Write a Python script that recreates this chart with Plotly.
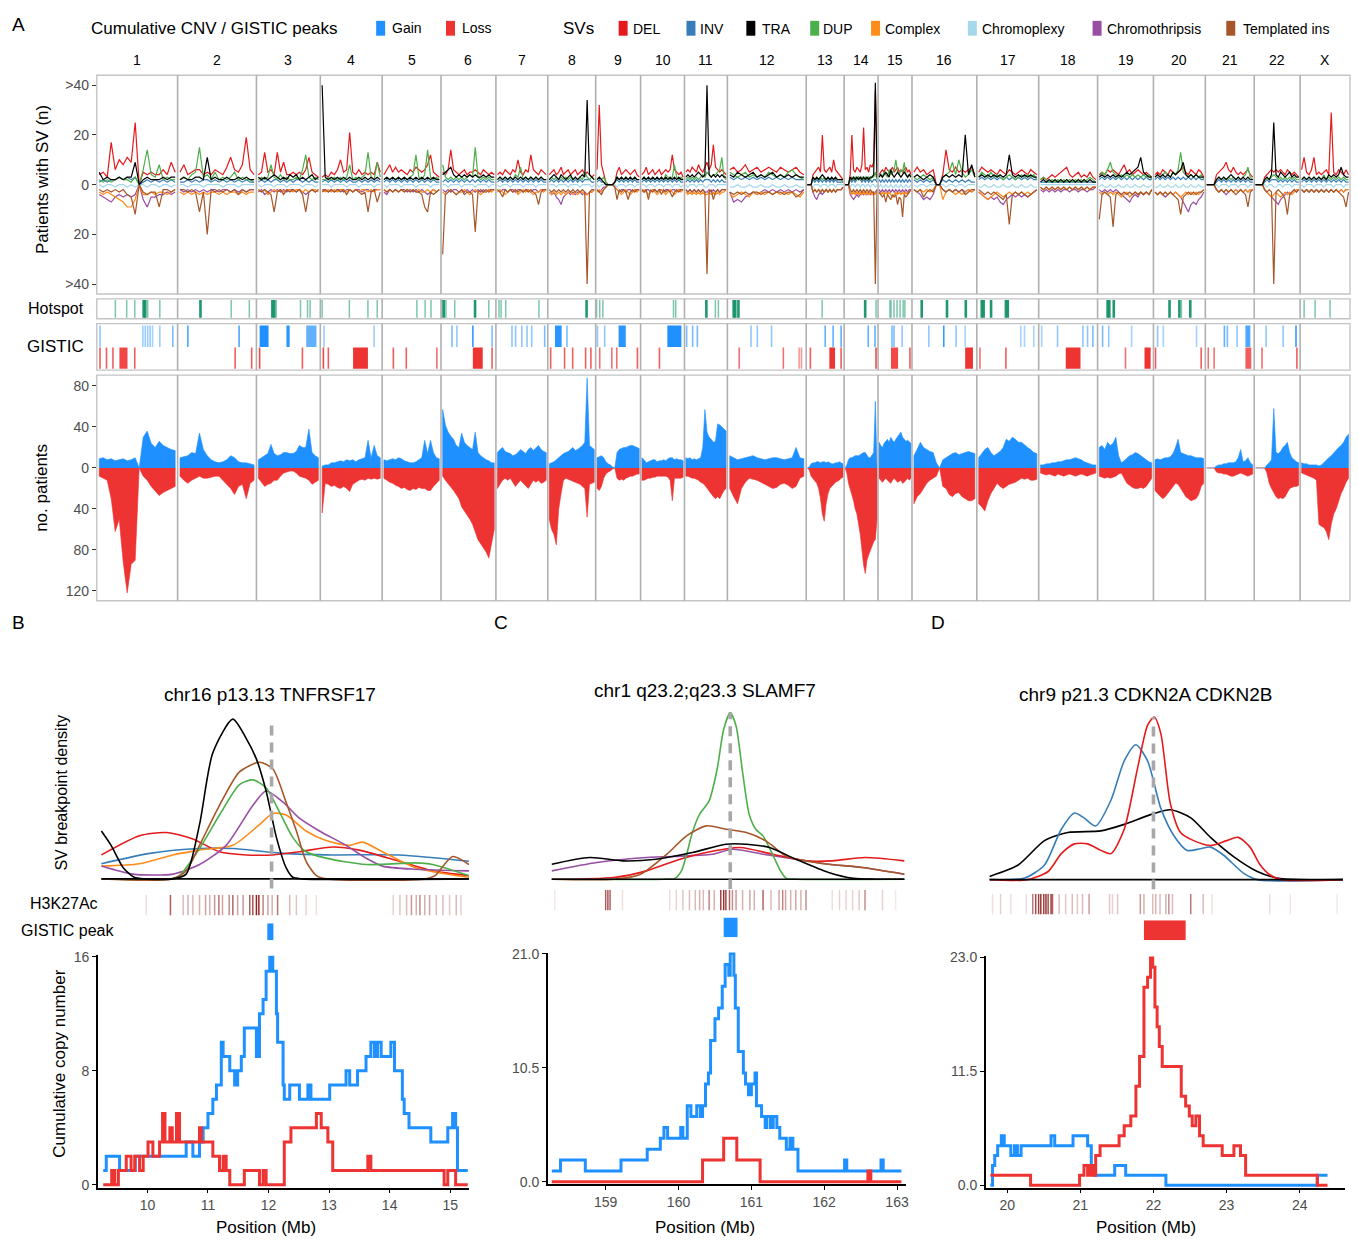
import plotly.graph_objects as go

W, H = 1358, 1245
FONT = "Liberation Sans"
GREY = "#4d4d4d"
GAIN = "#1e90ff"
LOSS = "#ee3333"

# ------------------------------------------------------------------ data (panel A)
chroms = ["1", "2", "3", "4", "5", "6", "7", "8", "9", "10", "11", "12",
          "13", "14", "15", "16", "17", "18", "19", "20", "21", "22", "X"]
# facet width of each chromosome panel (relative space used by the original facets)
chrom_span = [81, 79, 64, 62, 59, 55, 52, 48, 45, 44, 43, 79, 38, 34, 34, 65, 62, 59, 56, 52, 49, 46, 50]

# patients with SV per bin (20 bins / chromosome)
sv_del = [
    [4,5,3,17,6,10,8,11,9,25,0,5,4,5,4,4,6,4,9,5],
    [5,8,4,5,6,6,4,5,4,6,5,4,7,11,6,5,8,19,6,4],
    [4,5,13,5,6,4,13,5,9,4,4,5,4,5,4,6,11,5,4,3],
    [3,4,3,5,4,6,10,5,6,21,5,4,6,4,5,4,5,4,9,5],
    [4,6,8,5,7,5,6,5,4,6,5,7,6,5,6,8,12,5,4,3],
    [5,4,6,14,6,5,4,5,6,4,5,5,6,5,4,6,5,4,5,4],
    [4,5,4,6,5,4,6,5,10,5,4,6,5,12,6,5,4,6,5,4],
    [4,5,6,4,5,7,4,5,6,4,5,6,4,5,6,4,5,4,3,4],
    [6,32,8,5,1,0,0,0,1,5,7,4,5,6,5,4,5,6,4,3],
    [4,5,7,4,5,6,4,5,6,4,5,6,5,6,12,6,5,4,5,3],
    [5,6,5,7,6,5,8,6,5,7,9,6,8,16,7,6,5,6,5,4],
    [6,7,5,6,8,5,6,7,5,6,7,6,5,7,6,5,6,7,5,4],
    [0,0,0,4,5,6,7,5,20,6,5,6,7,5,10,6,5,4,3,2],
    [0,0,0,4,20,6,5,7,6,5,8,23,6,7,5,8,7,9,38,5],
    [4,5,6,5,7,6,5,6,7,5,6,7,5,6,5,6,7,5,6,4],
    [5,7,5,6,4,5,6,0,0,4,14,6,5,7,5,6,5,6,7,4],
    [5,7,6,5,6,5,4,6,5,4,6,5,4,5,6,5,4,6,5,4],
    [2,3,2,3,4,3,4,5,6,7,4,3,4,5,3,4,3,5,3,2],
    [4,5,4,6,5,6,5,4,6,8,5,6,4,5,6,5,4,5,4,3],
    [4,5,4,6,5,4,6,5,4,5,6,7,5,4,6,5,4,6,5,3],
    [0,0,0,0,4,5,6,7,9,6,5,7,5,4,5,4,5,6,4,3],
    [0,0,0,0,3,4,5,6,5,6,5,6,5,4,6,5,4,5,4,3],
    [6,11,5,4,6,11,4,5,4,5,6,4,29,5,4,6,5,4,6,4],
]
sv_dup = [
    [2,1,2,1,2,3,2,2,1,3,0,6,14,4,3,8,2,3,2,2],
    [2,3,2,4,5,15,3,4,2,5,2,3,2,3,5,2,3,2,2,1],
    [2,3,2,3,8,3,2,4,2,3,2,2,3,2,6,12,3,2,3,2],
    [2,2,3,2,3,2,3,2,3,8,2,3,2,3,4,13,3,2,9,3],
    [2,3,2,3,2,3,2,3,2,3,4,12,3,2,4,14,3,2,3,2],
    [8,3,2,3,2,3,2,3,2,3,4,3,15,3,2,3,2,3,2,2],
    [2,3,2,3,2,3,2,4,3,7,2,3,2,3,2,3,2,3,2,2],
    [2,3,2,3,2,3,2,3,2,3,2,3,2,3,2,5,3,2,3,2],
    [2,3,2,3,1,0,0,0,1,3,2,3,2,3,2,3,2,3,2,2],
    [2,3,2,3,2,3,2,3,2,3,2,4,3,2,3,8,3,2,3,2],
    [2,3,2,3,2,3,2,3,4,3,5,4,3,4,4,5,6,11,3,2],
    [5,4,3,4,5,3,4,3,4,3,5,4,3,4,3,5,6,4,3,2],
    [0,0,0,3,2,3,2,3,2,3,2,3,2,3,2,3,2,2,2,1],
    [0,0,0,2,3,2,3,2,3,2,3,2,3,2,3,2,3,3,5,2],
    [3,4,3,5,4,3,6,4,5,6,10,5,4,6,5,9,4,3,4,3],
    [3,2,3,4,3,2,3,0,0,3,4,5,9,4,10,5,3,4,6,3],
    [3,5,4,3,5,3,4,3,2,3,4,3,2,3,4,3,4,3,4,2],
    [2,3,2,1,2,1,2,1,2,1,2,1,2,1,2,1,2,3,2,1],
    [3,5,4,6,9,5,4,3,4,3,4,3,4,3,4,3,4,3,4,2],
    [3,4,3,4,5,4,3,5,4,6,13,5,4,3,4,3,4,3,4,2],
    [0,0,0,0,2,3,2,3,2,3,2,3,2,3,2,3,4,7,3,2],
    [0,0,0,0,2,3,2,3,4,3,2,3,2,3,2,3,2,3,2,2],
    [2,3,2,3,2,3,2,3,2,4,2,3,2,3,2,3,2,3,2,2],
]
sv_tra = [
    [5,2,3,2,2,3,2,3,3,9,0,2,3,2,2,2,3,2,3,3],
    [2,3,2,2,3,3,2,11,2,3,2,2,3,2,2,3,2,3,2,2],
    [3,2,3,2,3,4,3,2,3,2,4,3,4,2,3,2,3,4,2,3],
    [40,3,2,3,2,3,2,3,2,3,2,2,3,2,3,2,3,2,3,2],
    [2,3,2,3,2,3,2,3,2,3,2,3,2,3,2,3,2,3,2,2],
    [4,5,6,7,4,3,4,3,4,3,4,3,4,3,3,4,3,4,3,3],
    [2,3,2,3,2,3,2,3,2,3,2,3,2,3,2,3,2,3,2,2],
    [2,3,4,3,2,4,3,2,3,4,2,3,2,3,4,3,34,4,3,2],
    [2,3,2,1,0,0,0,0,1,3,2,3,2,3,2,3,2,3,2,2],
    [2,3,2,3,2,3,2,3,2,3,2,3,2,3,2,3,2,3,2,2],
    [3,4,3,4,3,4,5,4,3,4,40,4,3,4,3,4,3,4,3,3],
    [4,3,5,4,3,4,5,3,4,3,4,5,3,4,3,4,3,4,3,3],
    [0,0,0,3,2,3,2,3,4,3,2,3,2,3,2,3,2,2,2,2],
    [0,0,0,3,2,3,2,3,2,3,2,3,2,3,2,3,3,4,41,3],
    [3,4,3,4,5,4,3,6,4,3,4,5,4,3,4,5,4,3,4,3],
    [3,4,3,2,3,4,3,0,0,3,4,3,4,3,4,3,20,4,8,3],
    [3,4,3,4,3,4,3,4,3,4,12,4,3,4,3,4,3,4,3,3],
    [1,2,1,2,1,2,1,2,1,2,1,2,1,2,1,2,1,2,1,1],
    [3,4,3,4,3,4,3,4,3,4,5,4,5,6,7,11,5,4,3,3],
    [3,4,3,4,3,4,3,5,4,5,6,9,4,3,4,3,4,3,3,3],
    [0,0,0,0,2,3,2,3,2,3,4,3,2,3,2,3,2,3,2,2],
    [0,0,0,0,2,3,2,4,25,4,3,5,4,3,4,5,3,4,3,3],
    [2,3,2,3,2,3,2,3,2,3,2,4,3,4,3,4,7,4,3,3],
]
sv_inv = [
    [1,2,1,2,2,3,2,3,2,3,0,1,2,1,2,1,2,1,2,1],
    [1,1,2,1,2,1,2,2,1,2,1,2,1,2,1,2,1,2,1,1],
    [1,2,1,2,1,2,2,1,2,1,2,1,2,2,1,2,1,2,1,1],
    [1,2,1,2,1,2,1,2,1,2,1,1,2,1,2,1,2,1,2,1],
    [1,2,1,2,1,2,1,2,1,2,1,2,1,2,1,2,1,2,1,1],
    [1,2,1,2,1,2,1,2,1,2,1,2,1,2,1,2,1,2,1,1],
    [1,2,1,2,1,2,1,2,1,2,1,2,1,2,1,2,1,2,1,1],
    [1,2,1,2,1,2,1,2,1,2,1,2,1,2,1,2,2,2,1,1],
    [1,2,1,1,0,0,0,0,1,2,1,2,1,2,1,2,1,2,1,1],
    [1,2,1,2,1,2,1,2,1,2,1,2,1,2,1,2,1,2,1,1],
    [1,2,1,2,1,2,1,2,1,2,2,2,1,2,1,2,1,2,1,1],
    [3,2,3,2,3,2,3,2,3,2,3,2,3,2,3,2,3,2,2,2],
    [0,0,0,2,1,2,1,2,1,2,1,2,1,2,1,2,1,1,1,1],
    [0,0,0,2,1,2,1,2,3,2,1,2,1,2,1,2,1,2,2,1],
    [2,1,2,1,2,1,2,1,2,1,2,1,2,1,2,1,2,1,2,1],
    [2,1,2,1,2,1,2,0,0,2,1,2,1,2,1,2,1,2,1,1],
    [2,3,2,3,2,3,2,3,2,3,2,3,2,3,2,3,2,3,2,2],
    [1,1,1,1,1,1,1,1,1,1,1,1,1,1,1,1,1,1,1,1],
    [2,3,2,3,2,3,2,3,2,3,2,3,2,3,2,3,2,3,2,2],
    [2,3,2,3,2,3,2,3,2,3,2,3,2,3,2,3,2,3,2,2],
    [0,0,0,0,1,2,1,2,1,2,1,2,1,2,1,2,1,2,1,1],
    [0,0,0,0,1,2,1,2,2,2,1,2,1,2,1,2,1,2,1,1],
    [1,2,1,2,1,2,1,2,1,2,1,2,1,2,1,2,1,2,1,1],
]
sv_complex = [
    [3,4,3,4,5,6,7,9,9,6,0,4,4,3,4,3,3,4,3,2],
    [3,4,3,4,3,4,3,4,3,3,4,3,4,3,3,4,3,4,3,3],
    [2,3,2,4,3,2,3,2,3,2,2,3,2,2,3,2,3,2,2,3],
    [2,3,2,3,2,3,2,2,3,2,3,2,3,2,2,3,2,3,2,2],
    [2,3,2,3,2,3,2,3,2,3,2,3,2,3,3,2,3,2,3,2],
    [3,4,3,2,3,4,3,3,2,3,4,3,2,3,4,3,3,2,3,2],
    [3,2,3,4,3,2,3,2,4,3,2,3,2,3,4,3,3,2,3,2],
    [3,4,3,4,3,4,3,4,3,3,4,3,4,3,3,4,4,3,3,2],
    [3,2,3,2,1,0,0,0,1,2,3,4,3,2,3,4,3,2,3,2],
    [3,2,3,4,3,2,3,4,3,2,3,4,3,2,3,4,3,2,3,2],
    [3,4,3,4,3,4,3,4,3,4,4,3,4,3,4,3,4,3,3,2],
    [4,5,4,3,4,5,3,4,3,4,3,4,3,4,3,4,3,4,5,3],
    [0,0,0,3,2,3,2,3,2,3,2,3,2,3,2,3,2,2,2,1],
    [0,0,0,3,4,3,4,3,4,3,4,3,4,3,4,3,4,3,4,2],
    [3,4,3,4,3,4,3,4,5,4,3,4,3,4,3,4,3,4,3,2],
    [2,3,2,3,2,3,2,0,0,6,3,2,3,4,3,4,3,2,3,2],
    [3,4,5,6,5,4,3,4,5,4,3,4,3,4,3,4,3,4,3,2],
    [1,2,1,2,1,2,1,2,1,2,1,2,1,2,1,2,1,2,1,1],
    [3,4,3,4,3,4,3,4,5,4,3,5,4,3,4,3,4,3,4,2],
    [3,4,3,4,3,4,3,4,3,4,5,4,3,4,3,4,3,4,3,2],
    [0,0,0,0,2,3,2,3,2,3,2,3,2,3,2,3,2,3,2,2],
    [0,0,0,0,2,3,4,5,4,3,4,5,4,3,4,3,4,3,2,2],
    [2,3,2,3,2,3,2,3,2,3,2,3,2,3,2,3,2,3,2,2],
]
sv_chromothripsis = [
    [4,5,6,7,5,4,5,4,5,4,0,6,9,5,5,4,4,3,4,3],
    [2,3,2,3,2,3,2,3,2,2,3,2,2,3,2,3,2,3,2,2],
    [3,2,4,3,2,3,2,3,2,3,2,2,3,2,3,4,3,2,3,2],
    [2,2,3,2,3,2,2,3,2,2,3,2,2,3,2,2,3,2,2,2],
    [3,4,2,3,2,3,2,2,3,2,3,2,3,2,3,4,3,2,3,2],
    [2,3,2,3,2,2,3,2,3,2,3,2,3,2,3,2,3,2,2,2],
    [2,3,2,2,3,2,2,3,2,2,3,2,2,3,2,2,3,2,2,2],
    [3,4,3,5,6,8,5,4,3,4,3,4,3,3,4,3,4,3,3,2],
    [2,3,2,1,1,0,0,0,1,2,3,2,2,3,2,2,3,2,2,2],
    [2,3,2,2,3,2,2,3,2,2,3,2,2,3,2,2,3,2,2,2],
    [2,3,2,3,2,3,2,3,2,3,3,2,3,2,3,2,3,2,2,2],
    [3,7,6,7,5,4,3,4,3,2,3,2,3,2,3,2,3,2,3,2],
    [0,0,0,3,5,6,4,3,4,3,2,3,2,3,2,3,2,2,2,1],
    [0,0,0,4,5,6,5,4,5,4,3,4,3,4,3,4,3,4,3,2],
    [2,3,2,3,2,3,2,3,2,3,2,3,2,3,2,3,2,3,2,2],
    [2,3,4,6,5,6,4,0,0,2,3,2,3,2,3,2,3,2,3,2],
    [3,4,5,6,5,6,5,7,8,6,5,4,5,4,5,4,5,4,3,2],
    [2,3,2,3,2,3,2,3,2,2,3,2,2,3,2,2,3,2,2,1],
    [2,3,2,3,2,3,2,3,4,5,6,7,5,4,5,3,4,3,4,2],
    [3,4,3,4,5,4,3,4,3,4,5,7,9,11,8,7,8,6,5,3],
    [0,0,0,0,2,3,2,3,4,3,2,3,2,3,2,3,2,3,2,2],
    [0,0,0,0,2,3,4,5,6,7,8,6,5,4,3,4,3,2,3,2],
    [2,3,2,3,2,3,2,3,2,3,2,3,2,3,2,3,2,3,2,2],
]
sv_templated = [
    [2,3,2,3,2,3,2,4,5,12,0,3,4,3,3,9,2,2,3,2],
    [2,2,3,2,3,11,3,20,2,3,2,3,2,3,2,4,2,3,2,2],
    [2,3,2,3,4,11,3,2,4,2,3,2,3,2,4,11,3,2,3,2],
    [3,2,3,2,3,2,3,2,4,2,3,2,3,4,3,11,3,2,7,3],
    [2,3,2,3,2,3,2,3,2,3,2,3,3,4,9,11,3,4,3,2],
    [28,4,3,2,3,4,3,2,4,3,3,4,19,3,2,3,2,3,2,2],
    [2,3,5,2,3,2,3,2,3,2,3,2,3,2,3,4,8,3,2,2],
    [2,3,2,3,2,3,2,3,2,3,2,3,2,3,2,3,40,3,2,2],
    [2,3,4,2,1,0,0,0,1,6,2,3,2,3,6,3,2,3,2,2],
    [2,3,2,6,2,3,2,3,2,4,2,3,2,3,5,3,2,3,2,2],
    [2,3,2,3,2,3,2,3,2,3,36,3,2,6,3,2,3,2,2,2],
    [3,4,3,4,3,4,3,3,4,3,3,4,3,3,4,3,3,5,4,2],
    [0,0,0,3,2,3,2,3,2,3,2,3,2,3,2,3,2,2,2,1],
    [0,0,0,2,3,2,3,2,3,2,3,2,3,2,3,2,3,3,40,2],
    [3,4,5,4,7,4,5,6,4,5,4,8,5,6,13,4,5,4,3,2],
    [2,3,2,5,3,2,3,0,0,2,3,2,3,2,3,2,4,3,2,2],
    [2,3,4,3,4,3,4,5,6,4,16,4,3,4,3,4,5,4,3,2],
    [1,2,1,2,1,2,1,2,1,2,1,2,1,2,1,2,1,2,1,1],
    [14,4,3,4,5,17,4,3,4,3,4,3,4,3,4,3,4,3,4,2],
    [3,4,3,4,3,4,3,4,5,6,12,5,4,3,4,3,4,3,3,2],
    [0,0,0,0,2,3,2,3,2,3,2,3,4,3,2,3,4,9,3,2],
    [0,0,0,0,2,3,2,3,40,3,2,3,4,6,12,4,3,2,3,2],
    [2,3,2,3,2,3,2,3,2,3,2,3,2,3,2,3,4,5,9,3],
]
sv_chromoplexy = [
    [0,1,0,0,1,0,0,1,0,1,0,0,1,0,0,1,0,0,1,0],
    [0,0,1,0,0,0,1,0,0,0,0,1,0,0,0,1,0,0,0,0],
    [0,1,0,0,0,1,0,0,0,1,0,0,0,0,1,0,0,0,1,0],
    [0,0,0,1,0,0,0,0,1,0,0,0,1,0,0,0,0,1,0,0],
    [0,1,0,0,0,0,1,0,0,0,0,1,0,0,0,0,1,0,0,0],
    [0,0,1,0,0,0,0,1,0,0,0,0,1,0,0,0,0,1,0,0],
    [0,1,0,0,0,1,0,0,0,0,1,0,0,0,0,1,0,0,0,0],
    [0,0,0,1,0,0,0,0,1,0,0,0,0,1,0,0,0,0,1,0],
    [0,1,0,0,0,0,0,0,0,1,0,0,0,1,0,0,0,1,0,0],
    [0,0,1,0,0,0,1,0,0,0,1,0,0,0,1,0,0,0,1,0],
    [0,1,0,0,0,1,0,0,0,1,1,0,0,0,1,0,0,0,0,0],
    [1,1,0,1,1,0,1,1,0,1,1,0,1,1,0,1,1,0,1,1],
    [0,0,0,1,0,0,0,1,0,0,0,1,0,0,0,1,0,0,0,0],
    [0,0,0,1,0,0,1,0,0,1,0,0,1,0,0,1,0,0,1,0],
    [1,0,1,1,0,1,1,0,1,1,0,1,1,0,1,1,0,1,1,0],
    [0,1,0,0,1,0,0,0,0,0,1,0,0,1,0,0,1,0,0,0],
    [1,1,0,1,1,0,1,1,0,1,1,0,1,1,0,1,1,0,1,1],
    [0,0,0,0,0,0,0,0,0,0,0,0,0,0,0,0,0,0,0,0],
    [1,0,1,1,0,1,1,0,1,1,0,1,1,0,1,1,0,1,1,0],
    [1,1,0,1,1,0,1,1,0,1,1,0,1,1,0,1,1,0,1,1],
    [0,0,0,0,0,1,0,0,0,1,0,0,0,1,0,0,0,1,0,0],
    [0,0,0,0,0,1,0,0,1,1,0,0,1,0,0,0,1,0,0,0],
    [0,1,0,0,0,1,0,0,0,1,0,0,0,1,0,0,0,1,0,0],
]

# cumulative CNV (no. patients) per bin
cnv_gain = [
    [9,10,8,9,7,8,9,7,8,10,0,30,36,24,20,26,22,20,18,17],
    [10,11,12,15,14,34,18,12,8,6,5,6,8,12,10,6,5,5,4,3],
    [8,10,12,14,23,14,12,13,15,15,14,14,16,22,20,20,38,15,12,10],
    [2,3,3,5,5,6,7,6,8,7,8,6,8,9,10,27,10,22,12,10],
    [8,7,8,9,8,10,9,7,6,5,5,6,8,10,27,14,27,15,10,9],
    [57,42,35,31,28,22,20,34,25,22,20,18,35,15,12,10,8,7,5,5],
    [15,18,20,16,15,14,12,13,15,18,16,14,18,20,17,20,22,18,16,15],
    [4,5,6,8,10,12,14,15,16,18,20,17,18,20,22,25,88,22,20,18],
    [10,11,12,10,6,4,3,1,0,15,18,19,20,20,21,22,22,21,20,19],
    [10,8,5,6,7,8,8,6,7,7,8,7,9,10,10,8,9,8,8,7],
    [10,9,10,8,9,8,9,10,20,57,35,30,28,25,26,43,42,40,38,36],
    [12,10,8,9,10,11,12,10,9,8,9,10,10,9,8,9,10,20,10,9],
    [0,1,4,5,5,6,6,5,6,6,5,6,5,4,4,5,5,6,5,4],
    [0,3,8,10,10,11,12,12,12,13,14,15,15,12,10,10,12,15,65,20],
    [25,22,20,24,26,28,25,30,27,25,28,30,32,35,30,28,26,27,25,24],
    [12,18,25,20,18,16,15,5,0,8,10,12,14,15,13,14,15,16,15,14],
    [10,14,18,20,15,12,14,16,20,28,26,30,28,25,25,22,20,18,15,14],
    [3,3,4,4,5,5,6,6,7,8,8,9,10,9,8,6,5,4,3,3],
    [20,22,18,25,22,24,30,12,5,7,10,12,13,15,14,12,10,8,6,5],
    [8,9,8,9,10,10,11,14,20,28,15,14,13,12,12,11,10,10,10,9],
    [0,0,0,0,2,3,3,4,4,5,5,5,6,10,18,6,7,10,5,3],
    [0,0,0,0,0,3,5,8,58,15,14,16,20,22,25,15,10,8,6,5],
    [5,4,4,3,3,3,3,2,3,5,8,10,12,15,18,20,22,25,30,33],
]
cnv_loss = [
    [8,10,12,30,62,50,92,122,94,90,0,8,12,18,22,27,24,22,20,18],
    [8,12,15,12,10,8,10,10,9,8,8,12,15,20,26,18,16,30,15,12],
    [10,14,18,16,15,12,12,8,5,4,3,3,5,8,9,10,12,16,14,12],
    [44,15,16,18,17,19,20,18,20,23,16,14,12,11,12,10,11,10,11,10],
    [10,12,14,15,17,18,20,19,21,22,20,21,19,20,20,22,22,18,15,12],
    [8,12,15,18,22,26,30,38,42,45,50,55,62,70,74,78,82,88,75,60],
    [20,16,12,10,12,10,14,18,15,12,15,18,20,16,12,14,12,15,14,12],
    [50,60,65,75,40,25,12,10,11,12,13,14,15,16,18,20,48,16,15,14],
    [20,22,18,10,6,4,3,1,0,10,12,11,12,10,9,8,8,7,6,6],
    [12,12,11,10,10,9,9,8,8,8,8,8,9,12,32,10,10,10,10,9],
    [8,8,9,10,10,11,12,14,15,17,20,22,25,28,30,28,30,26,22,20],
    [20,28,35,20,14,10,11,12,14,16,18,20,19,16,15,17,20,18,10,8],
    [0,2,8,10,12,15,20,30,45,52,35,25,20,18,15,14,13,12,10,9],
    [0,5,15,20,25,32,40,45,55,65,80,95,103,90,85,80,75,72,70,50],
    [10,12,14,12,10,12,14,15,12,10,12,14,13,12,15,14,12,10,12,10],
    [35,28,25,20,15,12,10,8,0,18,20,26,28,25,24,28,30,32,32,30],
    [35,38,42,32,25,20,15,18,20,18,16,15,14,12,10,11,10,12,12,11],
    [5,6,7,6,7,8,6,7,8,7,6,7,8,7,6,7,8,7,6,5],
    [8,9,10,9,10,9,8,6,5,10,15,17,19,20,20,19,20,18,14,10],
    [22,25,28,30,28,25,22,18,15,16,20,25,28,30,32,31,30,26,18,15],
    [0,0,0,0,4,5,5,6,6,7,8,8,7,6,5,6,7,8,7,6],
    [0,0,0,0,0,5,15,20,24,28,30,29,30,28,24,20,19,18,18,17],
    [5,6,7,8,9,10,12,55,57,58,62,70,55,45,40,32,25,20,14,10],
]

# hotspots: (chromosome, position % of chromosome, strong?)
hotspots = [
    ("1",23,0),("1",37,0),("1",47,0),("1",58,1),("1",60,1),("1",63,0),("1",78,0),
    ("2",29,1),("2",68,0),("2",91,0),
    ("3",25,1),("3",28,1),("3",31,0),("3",69,0),("3",80,0),("3",84,0),
    ("4",3,0),("4",47,0),("4",77,0),("4",92,0),
    ("5",59,0),("5",73,0),("5",83,0),
    ("6",2,0),("6",5,1),("6",9,0),("6",25,0),("6",62,1),("6",87,0),
    ("7",6,0),("7",10,0),("7",19,0),("7",83,0),
    ("8",81,1),
    ("9",2,0),("9",9,0),("9",16,0),
    ("10",75,0),("10",80,0),
    ("11",51,1),("11",72,0),("11",79,0),
    ("12",8,1),("12",10,1),("12",14,1),
    ("13",42,0),
    ("14",62,1),("14",94,0),
    ("15",35,0),("15",38,0),("15",47,0),("15",56,0),("15",65,0),("15",74,0),("15",79,0),
    ("16",15,1),("16",54,1),("16",83,1),
    ("17",8,1),("17",11,1),("17",23,1),("17",47,1),("17",50,1),
    ("19",18,1),("19",21,1),("19",29,1),
    ("20",31,1),("20",50,1),("20",54,0),("20",71,1),
    ("X",8,0),("X",30,0),("X",60,0),
]

# GISTIC peaks: (chromosome, start %, end %, significance shade)
gistic_gain = [
    ("1",4,4,0.5),("1",57,57,0.45),("1",60,60,0.45),("1",63,63,0.45),("1",66,66,0.45),("1",69,69,0.4),
    ("1",78,78,0.45),("1",94,94,0.6),
    ("2",13,13,0.8),("2",78,78,0.8),
    ("3",5,19,1.0),("3",47,52,0.95),("3",78,94,0.7),
    ("4",6,6,0.45),("4",87,87,0.45),
    ("6",20,20,0.6),("6",29,29,0.5),("6",58,58,0.9),("6",93,93,0.6),
    ("7",31,31,0.5),("7",38,38,0.5),("7",50,50,0.5),("7",60,60,0.5),("7",69,69,0.5),("7",94,94,0.6),
    ("8",15,29,0.95),("8",40,40,0.6),
    ("9",4,4,0.5),("9",20,20,0.5),("9",51,67,0.95),
    ("10",61,93,1.0),
    ("11",5,5,0.6),("11",19,19,0.6),("11",30,30,0.6),
    ("12",30,30,0.5),("12",38,38,0.5),("12",56,56,0.5),
    ("13",50,50,0.7),("13",71,71,0.7),("13",92,92,0.7),
    ("14",71,71,0.7),("14",91,91,0.7),
    ("15",41,41,0.6),("15",47,47,0.6),("15",71,71,0.5),
    ("16",26,26,0.5),("16",49,49,0.9),("16",68,68,0.5),("16",82,82,0.4),
    ("17",71,71,0.4),("17",77,77,0.4),("17",92,92,0.4),
    ("18",5,5,0.4),("18",32,32,0.5),("18",75,75,0.5),("18",83,83,0.5),("18",92,92,0.6),
    ("19",9,9,0.6),("19",20,20,0.5),("19",61,61,0.4),
    ("20",8,8,0.5),("20",19,19,0.4),("20",83,83,0.4),
    ("21",39,39,0.7),("21",45,45,0.6),("21",65,65,0.5),("21",82,92,0.8),
    ("22",26,26,0.5),("22",63,63,0.5),("22",91,91,0.9),
]
gistic_loss = [
    ("1",4,4,0.8),("1",12,12,0.8),("1",20,20,0.8),("1",28,38,0.9),("1",47,47,0.8),
    ("2",73,73,0.8),("2",94,94,0.8),
    ("3",5,5,0.9),("3",72,72,0.8),
    ("4",5,5,0.9),("4",13,13,0.8),("4",53,77,1.0),
    ("5",19,19,0.8),("5",41,41,0.8),("5",93,93,0.7),
    ("6",58,76,1.0),("6",93,93,0.8),
    ("8",6,6,0.8),("8",35,35,0.8),("8",52,52,0.8),("8",79,79,0.8),("8",90,90,0.8),
    ("9",9,9,0.7),("9",36,36,0.7),("9",47,47,0.7),("9",93,93,0.8),
    ("10",43,43,0.8),
    ("12",15,15,0.7),("12",71,71,0.7),("12",91,91,0.5),("12",94,94,0.5),
    ("13",11,11,0.8),("13",61,76,1.0),("13",92,92,0.8),
    ("14",94,94,0.9),
    ("15",38,59,0.9),("15",94,94,0.8),
    ("16",82,94,1.0),
    ("17",5,5,0.7),("17",47,47,0.8),
    ("18",46,71,1.0),
    ("19",50,50,0.7),("19",84,95,1.0),
    ("20",4,4,0.8),("20",92,92,0.8),
    ("21",6,6,0.7),("21",18,18,0.7),("21",82,94,0.8),
    ("22",17,17,0.7),("22",93,93,0.8),
]

sv_types = ["DEL", "INV", "TRA", "DUP", "Complex", "Chromoplexy", "Chromothripsis", "Templated ins"]
sv_colors = ["#e41a1c", "#377eb8", "#000000", "#4daf4a", "#ff8c1a", "#a6d8ec", "#984ea3", "#a65628"]

# ------------------------------------------------------------------ data (panels B, C, D)
# SV breakpoint density (Mb, relative density)
b_del = [(9.24,0.15),(9.87,0.27),(10.31,0.29),(10.75,0.25),(11.19,0.17),(11.63,0.15),(12.07,0.15),
         (12.51,0.17),(13.06,0.20),(13.50,0.18),(14.16,0.11),(14.71,0.05),(15.31,0.02)]
b_inv = [(9.24,0.095),(10.04,0.16),(10.86,0.19),(11.41,0.19),(12.24,0.16),(13.06,0.15),(14.16,0.15),(15.31,0.11)]
b_tra = [(9.24,0.30),(9.40,0.21),(9.60,0.07),(9.78,0.01),(9.95,0.0),(10.42,0.0),(10.64,0.03),(10.86,0.34),
         (11.08,0.79),(11.41,1.0),(11.63,0.88),(11.80,0.75),(11.96,0.55),(12.13,0.26),(12.29,0.07),(12.40,0.01),
         (12.55,0.0),(15.31,0.0)]
b_dup = [(9.24,0.0),(10.40,0.0),(10.53,0.02),(10.86,0.19),(11.19,0.40),(11.52,0.59),(11.74,0.62),(11.96,0.57),
         (12.18,0.42),(12.40,0.26),(12.62,0.17),(12.95,0.13),(13.61,0.09),(14.43,0.10),(14.71,0.09),(15.31,0.02)]
b_complex = [(9.24,0.08),(9.87,0.095),(10.42,0.15),(10.86,0.18),(11.41,0.21),(11.85,0.34),(12.07,0.41),(12.29,0.40),
             (12.62,0.30),(12.95,0.24),(13.33,0.21),(13.55,0.23),(13.88,0.17),(14.43,0.07),(15.31,0.01)]
b_chromothripsis = [(9.24,0.08),(9.76,0.03),(10.42,0.03),(10.86,0.09),(11.30,0.21),(11.74,0.46),(11.96,0.55),(12.24,0.48),
                    (12.51,0.38),(12.84,0.30),(13.28,0.21),(13.61,0.13),(13.88,0.08),(14.43,0.06),(15.31,0.05)]
b_templated = [(9.24,0.0),(10.40,0.0),(10.64,0.05),(10.86,0.21),(11.19,0.46),(11.52,0.67),(11.85,0.73),(12.07,0.69),
               (12.29,0.48),(12.46,0.30),(12.62,0.11),(12.79,0.02),(12.95,0.0),(14.60,0.0),(14.75,0.02),(15.04,0.14),(15.31,0.09)]

c_dup = [(158.26,0.0),(159.80,0.0),(159.95,0.005),(160.04,0.05),(160.10,0.13),(160.19,0.28),(160.29,0.39),
         (160.42,0.47),(160.53,0.66),(160.62,0.90),(160.71,1.0),(160.79,0.92),(160.88,0.64),(160.97,0.39),
         (161.06,0.30),(161.16,0.26),(161.29,0.15),(161.40,0.05),(161.48,0.005),(161.62,0.0),(163.10,0.0)]
c_templated = [(158.26,0.0),(159.11,0.0),(159.48,0.03),(159.84,0.15),(160.11,0.26),(160.38,0.32),(160.65,0.30),
               (160.93,0.28),(161.20,0.23),(161.47,0.14),(161.75,0.11),(162.06,0.09),(162.52,0.07),(163.10,0.03)]
c_tra = [(158.26,0.09),(158.78,0.13),(159.24,0.11),(159.69,0.12),(160.19,0.16),(160.65,0.21),(160.93,0.21),
         (161.25,0.19),(161.61,0.12),(162.06,0.04),(162.40,0.005),(162.70,0.0),(163.10,0.0)]
c_chromothripsis = [(158.26,0.05),(158.88,0.10),(159.56,0.13),(160.11,0.14),(160.47,0.15),(160.74,0.18),(161.16,0.15),
                    (161.61,0.12),(162.06,0.09),(162.52,0.07),(163.10,0.03)]
c_del = [(158.26,0.0),(159.11,0.01),(159.56,0.05),(160.02,0.12),(160.38,0.16),(160.84,0.19),(161.29,0.15),
         (161.75,0.11),(162.11,0.11),(162.56,0.13),(163.10,0.11)]

d_del = [(19.76,0.0),(20.28,0.0),(20.56,0.05),(20.74,0.16),(20.92,0.22),(21.10,0.22),(21.28,0.18),(21.42,0.16),
         (21.60,0.31),(21.78,0.68),(21.92,0.95),(22.01,1.0),(22.10,0.90),(22.23,0.47),(22.37,0.29),(22.55,0.24),
         (22.78,0.21),(23.00,0.24),(23.16,0.26),(23.32,0.20),(23.46,0.09),(23.59,0.03),(23.75,0.0),(24.59,0.0)]
d_inv = [(19.76,0.0),(20.24,0.01),(20.51,0.09),(20.74,0.31),(20.92,0.41),(21.05,0.38),(21.21,0.33),(21.42,0.49),
         (21.60,0.73),(21.76,0.83),(21.92,0.73),(22.10,0.44),(22.28,0.27),(22.46,0.18),(22.64,0.19),(22.78,0.20),
         (22.96,0.15),(23.23,0.04),(23.42,0.0),(24.59,0.0)]
d_tra = [(19.76,0.02),(20.15,0.09),(20.51,0.24),(20.83,0.29),(21.28,0.30),(21.60,0.34),(21.96,0.40),(22.23,0.43),
         (22.51,0.38),(22.78,0.26),(23.10,0.14),(23.42,0.05),(23.69,0.01),(24.00,0.0),(24.59,0.0)]

gene_pos = {"B": 12.05, "C": 160.71, "D": 22.0}
density_span = {"B": (9.24, 15.31), "C": (158.26, 163.10), "D": (19.76, 24.59)}

# H3K27Ac peaks (Mb, signal)
b_h3 = [(9.98,0.15),(10.38,0.7),(10.59,0.3),(10.67,0.35),(10.75,0.3),(10.86,0.35),(10.96,0.4),(11.03,0.35),
        (11.11,0.45),(11.18,0.6),(11.24,0.4),(11.35,0.5),(11.41,0.65),(11.49,0.4),(11.58,0.45),(11.69,0.7),
        (11.74,0.75),(11.80,0.95),(11.84,0.9),(11.91,0.55),(11.99,0.4),(12.06,0.35),(12.15,0.6),(12.35,0.3),
        (12.46,0.25),(12.62,0.2),(12.79,0.15),(14.06,0.2),(14.17,0.25),(14.28,0.3),(14.36,0.45),(14.44,0.35),
        (14.50,0.5),(14.58,0.35),(14.66,0.4),(14.77,0.3),(14.88,0.3),(14.99,0.25),(15.10,0.3),(15.18,0.2)]
c_h3 = [(158.30,0.1),(159.00,0.7),(159.03,0.75),(159.06,0.7),(159.23,0.15),(159.88,0.15),(159.97,0.2),(160.06,0.25),
        (160.15,0.3),(160.23,0.3),(160.29,0.35),(160.34,0.3),(160.42,0.55),(160.49,0.35),(160.58,0.85),(160.62,0.9),
        (160.65,0.85),(160.70,0.7),(160.74,0.5),(160.79,0.45),(160.88,0.35),(160.98,0.4),(161.04,0.35),(161.16,0.7),
        (161.27,0.3),(161.38,0.4),(161.43,0.55),(161.47,0.4),(161.54,0.35),(161.61,0.4),(161.68,0.35),(161.75,0.5),
        (162.11,0.15),(162.21,0.2),(162.30,0.2),(162.39,0.2),(162.48,0.25),(162.56,0.5),(162.80,0.2),(162.98,0.1)]
d_h3 = [(19.80,0.15),(19.91,0.2),(20.05,0.15),(20.26,0.15),(20.35,0.6),(20.39,0.8),(20.43,0.85),(20.46,0.9),
        (20.50,0.85),(20.53,0.9),(20.56,0.8),(20.60,0.85),(20.62,0.7),(20.71,0.3),(20.80,0.25),(20.89,0.3),
        (20.96,0.25),(21.03,0.3),(21.12,0.45),(21.40,0.25),(21.44,0.2),(21.51,0.25),(21.82,0.45),(21.87,0.35),
        (21.99,0.3),(22.03,0.35),(22.09,0.3),(22.17,0.35),(22.21,0.5),(22.26,0.3),(22.51,0.6),(22.68,0.3),
        (22.80,0.15),(23.59,0.15),(23.87,0.1),(24.51,0.1)]

# GISTIC peak extent (Mb) and type
gistic_peak = {"B": (11.98, 12.08, "gain"), "C": (160.62, 160.81, "gain"), "D": (21.87, 22.44, "loss")}

# cumulative copy number (step profiles)
b_gain_x = [9.27,9.32,9.54,9.74,9.80,9.98,10.64,10.75,10.86,10.92,11.00,11.08,11.14,11.22,11.25,11.36,11.44,11.49,
            11.55,11.60,11.80,11.85,11.91,11.96,12.02,12.07,12.13,12.15,12.24,12.26,12.35,12.51,12.65,12.70,13.01,
            13.28,13.34,13.47,13.61,13.69,13.75,13.80,13.86,14.02,14.08,14.21,14.24,14.32,14.68,14.96,15.04,15.09,
            15.12,15.29]
b_gain_y = [1,2,1,1,2,2,3,2,3,4,5,6,7,10,9,8,7,8,9,11,9,12,13,15,16,15,12,10,7,6,7,6,7,6,7,8,7,8,9,10,9,10,9,
            10,8,6,5,4,3,4,5,4,1,1]
b_loss_x = [9.27,9.41,9.46,9.52,9.65,9.73,9.79,9.87,9.93,10.01,10.09,10.20,10.25,10.29,10.37,10.41,10.48,10.53,
            10.86,10.89,11.08,11.19,11.25,11.30,11.36,11.60,11.85,11.91,11.96,12.26,12.37,12.79,12.87,12.98,13.06,
            13.64,13.69,14.90,14.96,15.04,15.09,15.29]
b_loss_y = [0,1,0,1,2,1,2,1,2,3,2,3,5,3,4,3,5,3,4,3,2,1,2,1,0,1,0,1,0,3,4,5,4,3,1,2,1,0,1,1,0,0]

c_gain_x = [158.26,158.38,158.72,159.21,159.57,159.75,159.80,159.85,160.03,160.06,160.12,160.17,160.25,160.30,
            160.33,160.37,160.41,160.44,160.50,160.55,160.60,160.64,160.69,160.71,160.76,160.78,160.82,160.89,
            160.92,160.96,161.00,161.05,161.07,161.14,161.19,161.21,161.26,161.30,161.35,161.39,161.48,161.53,
            161.57,161.64,162.28,162.31,162.78,162.81,163.06]
c_gain_y = [1,2,1,2,3,4,5,4,5,4,7,6,7,6,7,9,10,13,15,16,18,20,19,21,19,16,12,10,9,8,9,10,7,6,5,6,5,6,5,4,3,4,3,
            1,2,1,2,1,1]
c_loss_x = [158.26,160.33,160.62,160.80,161.12,162.60,162.64,163.06]
c_loss_y = [0,2,4,2,0,1,0,0]

d_gain_x = [19.77,19.80,19.83,19.87,19.92,19.96,20.05,20.10,20.14,20.19,20.60,20.65,20.90,21.10,21.15,21.19,21.26,
            21.47,21.62,22.17,24.24,24.38]
d_gain_y = [0,2,3,4,5,4,3,4,3,4,5,4,5,4,2,1,1,2,1,0,1,1]
d_loss_x = [19.77,20.32,20.99,21.05,21.10,21.14,21.18,21.21,21.27,21.53,21.60,21.69,21.76,21.81,21.87,21.92,21.96,
            21.99,22.02,22.05,22.08,22.12,22.38,22.44,22.49,22.53,22.58,22.63,22.68,22.94,23.10,23.19,23.26,24.24,24.38]
d_loss_y = [1,0,1,2,1,2,1,3,4,5,6,7,10,13,20,21,23,22,18,16,14,12,9,8,7,6,7,5,4,3,4,3,1,0,0]

# ------------------------------------------------------------------ helpers
offsets = []
_acc = 0
for _s in chrom_span:
    offsets.append(_acc)
    _acc += _s
TOTAL = _acc
cidx = {c: i for i, c in enumerate(chroms)}


def bin_x(ci, n):
    return [offsets[ci] + chrom_span[ci] * (0.03 + 0.94 * k / (n - 1)) for k in range(n)]


def pos_x(c, pct):
    ci = cidx[c]
    return offsets[ci] + chrom_span[ci] * pct / 100.0


def xd(a, b):
    return [a / W, b / W]


def yd(top, bottom):
    return [1 - bottom / H, 1 - top / H]


def px(x):
    return x / W


def py(y):
    return 1 - y / H


fig = go.Figure()

# ------------------------------------------------------------------ panel A: SV lines
col = dict(zip(sv_types, sv_colors))
sv_layers = [(sv_chromoplexy, -1, col["Chromoplexy"]), (sv_chromothripsis, -1, col["Chromothripsis"]),
             (sv_complex, -1, col["Complex"]), (sv_templated, -1, col["Templated ins"]),
             (sv_inv, 1, col["INV"]), (sv_del, 1, col["DEL"]), (sv_dup, 1, col["DUP"]), (sv_tra, 1, col["TRA"])]
for data, sign, c in sv_layers:
    xs, ys = [], []
    for ci, vals in enumerate(data):
        xs += bin_x(ci, len(vals)) + [None]
        ys += [sign * v for v in vals] + [None]
    fig.add_trace(go.Scatter(x=xs, y=ys, mode="lines", line=dict(color=c, width=1.2),
                             xaxis="x", yaxis="y", hoverinfo="skip"))

# hotspots
fig.add_trace(go.Bar(
    x=[pos_x(c, p) for c, p, s in hotspots],
    y=[0.9 for _ in hotspots], base=0.05,
    width=[2.6 if s else 1.5 for c, p, s in hotspots],
    marker=dict(color=["rgba(20,145,100,0.95)" if s else "rgba(40,160,115,0.6)" for c, p, s in hotspots],
                line=dict(width=0)),
    xaxis="x", yaxis="y2", hoverinfo="skip"))

# GISTIC
for regs, base, rgb in [(gistic_gain, 1.0, "30,144,255"), (gistic_loss, 0.06, "238,51,51")]:
    fig.add_trace(go.Bar(
        x=[(pos_x(c, s) + pos_x(c, e)) / 2 for c, s, e, a in regs],
        y=[0.92 for _ in regs], base=base,
        width=[max(pos_x(c, e) - pos_x(c, s), 1.6) for c, s, e, a in regs],
        marker=dict(color=["rgba(%s,%.2f)" % (rgb, a) for c, s, e, a in regs], line=dict(width=0)),
        xaxis="x", yaxis="y3", hoverinfo="skip"))

# CNV
for data, sign, c in [(cnv_gain, 1, GAIN), (cnv_loss, -1, LOSS)]:
    xs, ys = [], []
    for ci, vals in enumerate(data):
        bx = bin_x(ci, len(vals))
        xs += [bx[0]] + bx + [bx[-1], None]
        ys += [0] + [sign * v for v in vals] + [0, None]
    fig.add_trace(go.Scatter(x=xs, y=ys, mode="lines", fill="toself", fillcolor=c,
                             line=dict(color=c, width=0.6), xaxis="x", yaxis="y4", hoverinfo="skip"))

# ------------------------------------------------------------------ panels B, C, D
panels = {
    "B": dict(xa="x2", ys=("y5", "y6", "y7", "y8"),
              dens=[(b_inv, col["INV"]), (b_del, col["DEL"]), (b_complex, col["Complex"]),
                    (b_chromothripsis, col["Chromothripsis"]), (b_dup, col["DUP"]),
                    (b_templated, col["Templated ins"]), (b_tra, col["TRA"])],
              h3=b_h3, h3w=0.025, cn=((b_gain_x, b_gain_y), (b_loss_x, b_loss_y))),
    "C": dict(xa="x3", ys=("y9", "y10", "y11", "y12"),
              dens=[(c_chromothripsis, col["Chromothripsis"]), (c_del, col["DEL"]), (c_dup, col["DUP"]),
                    (c_templated, col["Templated ins"]), (c_tra, col["TRA"])],
              h3=c_h3, h3w=0.02, cn=((c_gain_x, c_gain_y), (c_loss_x, c_loss_y))),
    "D": dict(xa="x4", ys=("y13", "y14", "y15", "y16"),
              dens=[(d_tra, col["TRA"]), (d_inv, col["INV"]), (d_del, col["DEL"])],
              h3=d_h3, h3w=0.02, cn=((d_gain_x, d_gain_y), (d_loss_x, d_loss_y))),
}

for key, P in panels.items():
    xa = P["xa"]
    yden, yh3, ypk, ycn = P["ys"]
    s0, s1 = density_span[key]
    for pts, c in P["dens"]:
        fig.add_trace(go.Scatter(x=[p[0] for p in pts], y=[p[1] for p in pts], mode="lines",
                                 line=dict(color=c, width=1.6, shape="spline", smoothing=0.7),
                                 xaxis=xa, yaxis=yden, hoverinfo="skip"))
    fig.add_trace(go.Scatter(x=[s0, s1], y=[0, 0], mode="lines", line=dict(color="black", width=1.6),
                             xaxis=xa, yaxis=yden, hoverinfo="skip"))
    g = gene_pos[key]
    fig.add_trace(go.Scatter(x=[g, g], y=[-0.06, 1.0], mode="lines",
                             line=dict(color="#a8a8a8", width=3.6, dash="10px,7px"),
                             xaxis=xa, yaxis=yden, hoverinfo="skip"))
    fig.add_trace(go.Bar(x=[p for p, a in P["h3"]], y=[1 for _ in P["h3"]], base=0,
                         width=[P["h3w"] for _ in P["h3"]],
                         marker=dict(color=["rgba(139,26,26,%.2f)" % a for p, a in P["h3"]], line=dict(width=0)),
                         xaxis=xa, yaxis=yh3, hoverinfo="skip"))
    ps, pe, pt = gistic_peak[key]
    fig.add_trace(go.Bar(x=[(ps + pe) / 2], y=[1], base=0, width=[pe - ps],
                         marker=dict(color=GAIN if pt == "gain" else LOSS, line=dict(width=0)),
                         xaxis=xa, yaxis=ypk, hoverinfo="skip"))
    (gx, gy), (lx, ly) = P["cn"]
    fig.add_trace(go.Scatter(x=gx, y=gy, mode="lines", line=dict(color=GAIN, width=3, shape="hv"),
                             xaxis=xa, yaxis=ycn, hoverinfo="skip"))
    fig.add_trace(go.Scatter(x=lx, y=ly, mode="lines", line=dict(color=LOSS, width=3, shape="hv"),
                             xaxis=xa, yaxis=ycn, hoverinfo="skip"))

# ------------------------------------------------------------------ layout
hidden = dict(visible=False, showgrid=False, zeroline=False)
tickfont = dict(family=FONT, size=14, color=GREY)

layout = dict(
    width=W, height=H, margin=dict(l=0, r=0, t=0, b=0),
    paper_bgcolor="white", plot_bgcolor="white", showlegend=False, barmode="overlay",
    font=dict(family=FONT, size=14, color="black"),
    xaxis=dict(domain=xd(97, 1353), range=[0, TOTAL], anchor="y4", **hidden),
    yaxis=dict(domain=yd(69, 290), range=[-44, 44], anchor="x", showgrid=False, zeroline=False,
               tickvals=[40, 20, 0, -20, -40], ticktext=[">40", "20", "0", "20", ">40"],
               ticks="outside", ticklen=4, tickcolor="#333333", tickfont=tickfont, showline=False),
    yaxis2=dict(domain=yd(295, 315), range=[0, 1], anchor="x", **hidden),
    yaxis3=dict(domain=yd(320, 367), range=[0, 2], anchor="x", **hidden),
    yaxis4=dict(domain=yd(372, 600), range=[-129.6, 90.6], anchor="x", showgrid=False, zeroline=False,
                tickvals=[80, 40, 0, -40, -80, -120], ticktext=["80", "40", "0", "40", "80", "120"],
                ticks="outside", ticklen=4, tickcolor="#333333", tickfont=tickfont, showline=False),
)

axis_line = dict(showline=True, linecolor="black", linewidth=1.5, ticks="outside", ticklen=4,
                 tickcolor="black", tickwidth=1.2, tickfont=tickfont, showgrid=False, zeroline=False)

cn_axes = {
    "B": dict(x="xaxis2", xdom=(98, 470), xr=[9.18, 15.31], xt=[10, 11, 12, 13, 14, 15],
              dens=("yaxis5", (710, 894), [-0.08, 1.06]), h3=("yaxis6", (897, 918)), pk=("yaxis7", (926, 943)),
              cn=("yaxis8", (958.5, 1193), [-0.2, 16.1], [0, 8, 16], ["0", "8", "16"]), ya="y8"),
    "C": dict(x="xaxis3", xdom=(549, 908), xr=[158.205, 163.123], xt=[159, 160, 161, 162, 163],
              dens=("yaxis9", (708, 891.5), [-0.06, 1.03]), h3=("yaxis10", (892, 913)), pk=("yaxis11", (920, 940)),
              cn=("yaxis12", (955.5, 1189.7), [-0.23, 21.1], [0, 10.5, 21], ["0.0", "10.5", "21.0"]), ya="y12"),
    "D": dict(x="xaxis4", xdom=(988, 1348), xr=[19.708, 24.619], xt=[20, 21, 22, 23, 24],
              dens=("yaxis13", (711, 891.7), [-0.06, 1.04]), h3=("yaxis14", (896, 917)), pk=("yaxis15", (923, 943)),
              cn=("yaxis16", (959.5, 1193), [-0.23, 23.1], [0, 11.5, 23], ["0.0", "11.5", "23.0"]), ya="y16"),
}

for key, A in cn_axes.items():
    xname = "x" + A["x"][5:]
    layout[A["x"]] = dict(domain=xd(*A["xdom"]), range=A["xr"], anchor=A["ya"], tickvals=A["xt"], **axis_line)
    nm, dom, rg = A["dens"]
    layout[nm] = dict(domain=yd(*dom), range=rg, anchor=xname, **hidden)
    nm, dom = A["h3"]
    layout[nm] = dict(domain=yd(*dom), range=[0, 1], anchor=xname, **hidden)
    nm, dom = A["pk"]
    layout[nm] = dict(domain=yd(*dom), range=[0, 1], anchor=xname, **hidden)
    nm, dom, rg, tv, tt = A["cn"]
    layout[nm] = dict(domain=yd(*dom), range=rg, anchor=xname, tickvals=tv, ticktext=tt, **axis_line)

fig.update_layout(**layout)

# ------------------------------------------------------------------ frames, separators
shapes = []
rows = [(69, 290), (295, 315), (320, 367), (372, 600)]
for top, bot in rows:
    shapes.append(dict(type="rect", xref="paper", yref="paper", x0=px(97), x1=px(1353), y0=py(bot), y1=py(top),
                       line=dict(color="#c4c4c4", width=1.4), fillcolor="rgba(0,0,0,0)", layer="above"))
    for ci in range(1, len(chroms)):
        shapes.append(dict(type="line", xref="x", yref="paper", x0=offsets[ci], x1=offsets[ci],
                           y0=py(bot), y1=py(top), line=dict(color="#b0b0b0", width=1.6), layer="above"))

legend_keys = [(377, GAIN), (447, LOSS)]
sv_key_x = [620, 688, 748, 812, 873, 970, 1095, 1229]
for kx, c in zip(sv_key_x, sv_colors):
    legend_keys.append((kx, c))
for kx, c in legend_keys:
    shapes.append(dict(type="rect", xref="paper", yref="paper", x0=px(kx), x1=px(kx + 9), y0=py(29), y1=py(14),
                       line=dict(width=0), fillcolor=c))
fig.update_layout(shapes=shapes)

# ------------------------------------------------------------------ text
ann = []


def text(t, x, y, size=14, xanchor="center", angle=0, color="black"):
    ann.append(dict(text=t, x=px(x), y=py(y), xref="paper", yref="paper", showarrow=False,
                    xanchor=xanchor, yanchor="middle", textangle=angle,
                    font=dict(family=FONT, size=size, color=color)))


text("A", 10, 18, 19, "left")
text("Cumulative CNV / GISTIC peaks", 89, 22, 17, "left")
text("Gain", 391, 21, 14, "left")
text("Loss", 461, 21, 14, "left")
text("SVs", 562, 22, 17, "left")
sv_text_x = [632, 700, 762, 823, 885, 982, 1107, 1244]
for tx, name in zip(sv_text_x, sv_types):
    text(name, tx, 22, 14, "left")

for ci, c in enumerate(chroms):
    ann.append(dict(text=c, x=offsets[ci] + chrom_span[ci] / 2, y=py(54), xref="x", yref="paper",
                    showarrow=False, xanchor="center", yanchor="middle",
                    font=dict(family=FONT, size=14, color="black")))

text("Patients with SV (n)", 42, 174, 17, angle=-90)
text("Hotspot", 86, 305, 16, "right")
text("GISTIC", 86, 343, 17, "right")
text("no. patients", 42, 486, 17, angle=-90)

text("B", 10, 622, 19, "left")
text("C", 493, 622, 19, "left")
text("D", 931, 622, 19, "left")
text("chr16 p13.13 TNFRSF17", 271, 695, 19)
text("chr1 q23.2;q23.3 SLAMF7", 707, 691, 19)
text("chr9 p21.3 CDKN2A CDKN2B", 1148, 695, 19)
text("SV breakpoint density", 62, 794, 16, angle=-90)
text("H3K27Ac", 100, 906, 16, "right")
text("GISTIC peak", 116, 933, 16, "right")
text("Cumulative copy number", 60, 1068, 17, angle=-90)
text("Position (Mb)", 267, 1233, 17)
text("Position (Mb)", 707, 1233, 17)
text("Position (Mb)", 1149, 1233, 17)

fig.update_layout(annotations=ann)

fig.write_html("out.html")
